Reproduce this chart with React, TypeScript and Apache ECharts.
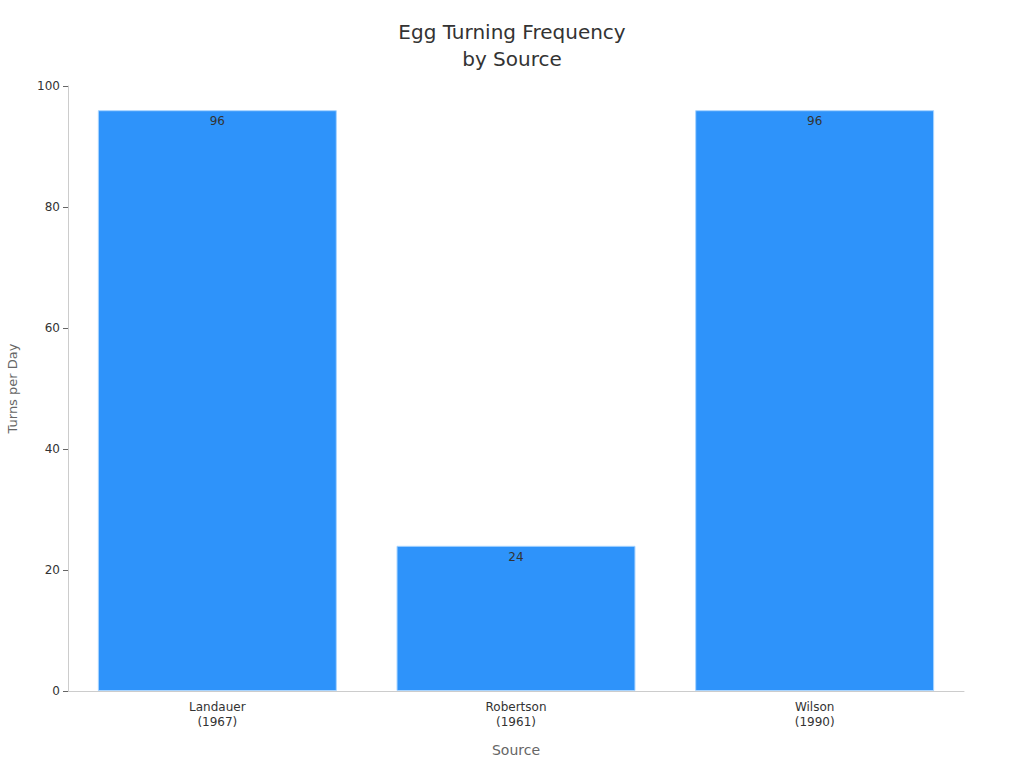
import React, { useEffect, useRef } from "react";
import * as echarts from "echarts";

const sources = ["Landauer\n(1967)", "Robertson\n(1961)", "Wilson\n(1990)"];
const turnsPerDay = [96, 24, 96];
const yTicks = { min: 0, max: 100, interval: 20 };

const App: React.FC = () => {
  const chartRef = useRef<HTMLDivElement | null>(null);

  useEffect(() => {
    if (!chartRef.current) return;
    const chart = echarts.init(chartRef.current, undefined, { renderer: "svg" });

    const font = "'DejaVu Sans', sans-serif";

    chart.setOption({
      animation: false,
      title: {
        text: "Egg Turning Frequency\nby Source",
        left: "center",
        top: 13,
        textStyle: {
          fontFamily: font,
          fontSize: 20,
          fontWeight: "normal",
          color: "#333",
          lineHeight: 27,
        },
      },
      grid: { left: 68, right: 60, top: 86, bottom: 77, outerBoundsMode: "none" },
      xAxis: {
        type: "category",
        data: sources,
        name: "Source",
        nameLocation: "middle",
        nameGap: 52,
        nameTextStyle: { fontFamily: font, fontSize: 14, color: "#666" },
        axisLine: { lineStyle: { color: "#ccc" } },
        axisTick: { alignWithLabel: true, lineStyle: { color: "#999" } },
        axisLabel: {
          fontFamily: font,
          fontSize: 12,
          color: "#333",
          lineHeight: 15,
        },
      },
      yAxis: {
        type: "value",
        min: yTicks.min,
        max: yTicks.max,
        interval: yTicks.interval,
        name: "Turns per Day",
        nameLocation: "middle",
        nameGap: 49,
        nameTextStyle: { fontFamily: font, fontSize: 13, color: "#666" },
        axisLine: { show: true, lineStyle: { color: "#ccc" } },
        axisTick: { show: true, lineStyle: { color: "#666" } },
        axisLabel: { fontFamily: font, fontSize: 12, color: "#333" },
        splitLine: { show: false },
      },
      series: [
        {
          type: "bar",
          data: turnsPerDay,
          barWidth: "80%",
          itemStyle: {
            color: "#2E93FA",
            borderColor: "#A8D4FF",
            borderWidth: 1,
          },
          label: {
            show: true,
            position: "insideTop",
            distance: 5,
            fontFamily: font,
            fontSize: 12,
            color: "#333",
          },
        },
      ],
    });

    const handleResize = () => chart.resize();
    window.addEventListener("resize", handleResize);
    return () => {
      window.removeEventListener("resize", handleResize);
      chart.dispose();
    };
  }, []);

  return (
    <div
      ref={chartRef}
      style={{ position: "fixed", left: 0, top: 0, width: 1024, height: 768, background: "#fff" }}
    />
  );
};

export default App;
